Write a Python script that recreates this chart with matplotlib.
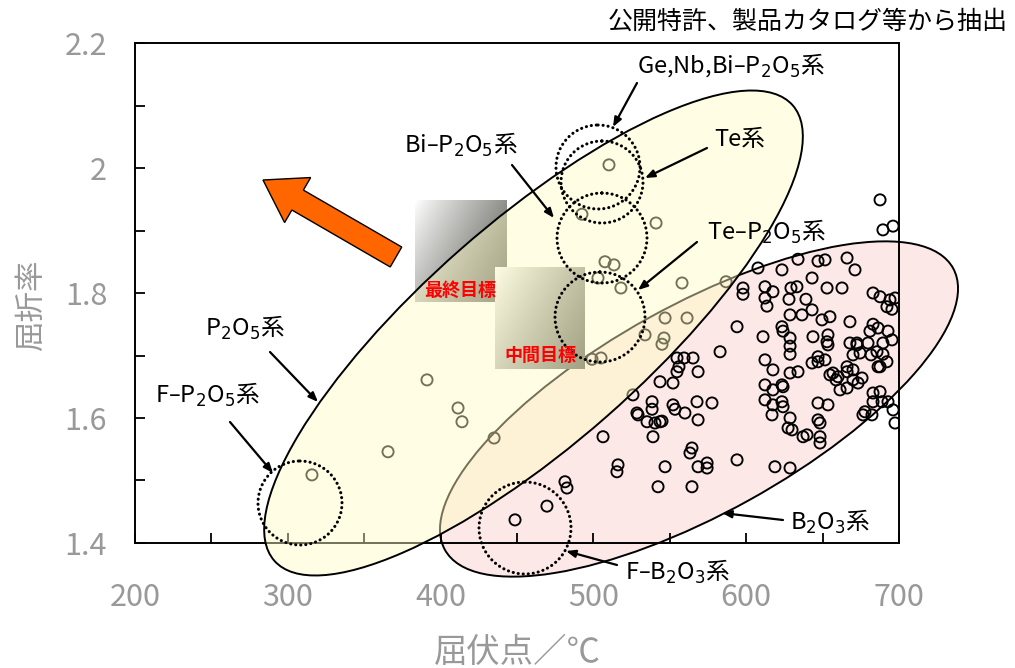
import numpy as np
import matplotlib
matplotlib.use("Agg")
import matplotlib.pyplot as plt
from matplotlib.patches import Ellipse, FancyArrow
from matplotlib.ticker import FixedLocator

plt.rcParams['font.family'] = ['Noto Sans CJK JP', 'DejaVu Sans']

# ---------------- data (softening point [deg C], refractive index) -------------
tg_b2o3 = [607.7, 623.4, 633.9, 647.0, 651.6, 666.0, 671.2, 643.1, 597.9, 597.9,
           612.3, 617.5, 612.3, 613.6, 629.3, 633.2, 628.0, 639.1, 652.9, 662.7,
           683.0, 687.6, 694.1, 697.4, 692.1, 695.4, 628.7, 636.5, 643.1, 649.6,
           654.8, 667.9, 683.0, 686.3, 623.4, 594.0, 681.0, 692.8, 695.4, 687.6,
           689.5, 696.1, 611.0, 624.1, 628.7, 628.7, 628.7, 652.9, 653.5, 667.9,
           672.5, 669.9, 679.7, 681.7, 685.6, 689.5, 689.5, 686.3, 612.3, 617.5,
           628.7, 633.9, 643.1, 647.0, 651.6, 654.8, 658.8, 666.0, 669.9, 675.8,
           661.4, 666.0, 673.2, 612.3, 617.5, 623.4, 612.3, 617.5, 623.4, 624.1,
           616.9, 628.7, 627.4, 647.0, 653.5, 647.0, 637.2, 648.3, 648.3, 676.4,
           682.3, 683.0, 687.6, 683.0, 688.9, 692.8, 696.1, 697.4, 618.8, 628.7,
           582.9, 554.7, 559.3, 565.2, 554.7, 556.0, 568.5, 543.6, 552.1, 538.4,
           538.4, 529.2, 535.1, 540.3, 544.9, 539.0, 552.1, 553.4, 559.9, 567.8,
           577.6, 568.5, 506.3, 564.5, 563.2, 516.1, 515.4, 546.9, 568.5, 574.4,
           574.4, 594.0, 542.3, 564.5, 481.4, 482.7, 448.7, 469.6, 692.1, 643.7,
           647.0, 656.8, 660.1, 687.6, 653.5, 672.5, 666.0, 669.9, 674.5, 543.6,
           528.5, 624.1, 648.3, 639.8, 630.0, 677.7]
nd_b2o3 = [1.840, 1.837, 1.854, 1.851, 1.853, 1.856, 1.837, 1.824, 1.808, 1.798,
           1.810, 1.802, 1.792, 1.779, 1.808, 1.810, 1.790, 1.790, 1.808, 1.808,
           1.800, 1.794, 1.789, 1.792, 1.778, 1.774, 1.765, 1.765, 1.773, 1.757,
           1.762, 1.754, 1.750, 1.744, 1.746, 1.746, 1.739, 1.739, 1.725, 1.949,
           1.901, 1.907, 1.730, 1.739, 1.728, 1.715, 1.702, 1.722, 1.733, 1.720,
           1.720, 1.701, 1.720, 1.701, 1.706, 1.720, 1.702, 1.682, 1.693, 1.677,
           1.672, 1.674, 1.688, 1.690, 1.693, 1.669, 1.661, 1.674, 1.661, 1.664,
           1.645, 1.648, 1.656, 1.653, 1.645, 1.653, 1.629, 1.621, 1.626, 1.618,
           1.605, 1.600, 1.584, 1.624, 1.621, 1.597, 1.570, 1.570, 1.560, 1.605,
           1.605, 1.640, 1.642, 1.626, 1.626, 1.626, 1.613, 1.592, 1.522, 1.520,
           1.706, 1.696, 1.696, 1.696, 1.674, 1.682, 1.674, 1.658, 1.656, 1.626,
           1.614, 1.605, 1.594, 1.592, 1.595, 1.570, 1.621, 1.614, 1.608, 1.626,
           1.624, 1.597, 1.570, 1.552, 1.544, 1.525, 1.514, 1.522, 1.522, 1.528,
           1.520, 1.533, 1.490, 1.490, 1.498, 1.488, 1.437, 1.459, 1.690, 1.730,
           1.698, 1.672, 1.666, 1.682, 1.717, 1.717, 1.682, 1.677, 1.704, 1.594,
           1.608, 1.650, 1.592, 1.573, 1.581, 1.610]

tg_p2o5 = [315.8, 365.6, 391.1, 411.4, 414.0, 435.0, 510.2, 492.5, 541.0, 507.6,
           513.5, 503.0, 518.0, 558.0, 586.8, 546.9, 561.3, 533.8, 546.2, 544.9,
           499.1, 505.0, 525.9]
nd_p2o5 = [1.509, 1.546, 1.661, 1.616, 1.594, 1.568, 2.005, 1.926, 1.912, 1.850,
           1.845, 1.824, 1.808, 1.816, 1.818, 1.760, 1.760, 1.733, 1.728, 1.718,
           1.694, 1.696, 1.637]

x_ticks = [200, 300, 400, 500, 600, 700]
x_ticklabels = ['200', '300', '400', '500', '600', '700']
y_ticks = [1.4, 1.6, 1.8, 2.0, 2.2]
y_ticklabels = ['1.4', '1.6', '1.8', '2', '2.2']

# ---------------- figure & layers ------------------------------------------------
W, H = 1015, 668
fig = plt.figure(figsize=(W / 100, H / 100), dpi=100)

ax_bg = fig.add_axes([0, 0, 1, 1])
ax_bg.set_zorder(0)
ax = fig.add_axes([135 / W, (H - 543) / H, 764 / W, 500 / H])
ax.set_zorder(1)
ax.patch.set_visible(False)
ax_fg = fig.add_axes([0, 0, 1, 1])
ax_fg.set_zorder(2)

# ---- background layer: B2O3 region and target boxes
pink = '#fde8e8'
ax_bg.add_patch(Ellipse((699, 409), 581, 208, angle=-29, facecolor=pink,
                        edgecolor='black', lw=1.4))


def grad_box(a, x0, y0, x1, y1):
    n = 80
    u = np.linspace(0, 1, n)
    U, V = np.meshgrid(u, u)
    g = np.clip(0.62 * U + 0.38 * V, 0, 1) ** 0.9
    dark = np.array([0.34, 0.34, 0.31])
    img = (1 - g)[..., None] * np.array([1.0, 1.0, 1.0]) + g[..., None] * dark
    a.imshow(img, extent=(x0, x1, y1, y0), origin='upper', aspect='auto',
             interpolation='bilinear', zorder=2)


grad_box(ax_bg, 415, 200, 507, 302)
grad_box(ax_bg, 495, 267, 585, 369)
ax_bg.set_xlim(0, W)
ax_bg.set_ylim(H, 0)
ax_bg.axis('off')

# ---- main axes: scatter
ax.scatter(tg_b2o3, nd_b2o3, s=64, facecolors='none', edgecolors='black',
           linewidths=1.35, zorder=3)
ax.scatter(tg_p2o5, nd_p2o5, s=64, facecolors='none', edgecolors='black',
           linewidths=1.35, zorder=3)
ax.set_xlim(200, 700)
ax.set_ylim(1.4, 2.2)
ax.set_xticks(x_ticks)
ax.set_xticklabels(x_ticklabels)
ax.xaxis.set_minor_locator(FixedLocator([250, 350, 450, 550, 650]))
ax.set_yticks(y_ticks)
ax.set_yticklabels(y_ticklabels)
ax.yaxis.set_minor_locator(FixedLocator([1.5, 1.7, 1.9, 2.1]))
ax.tick_params(which='both', direction='in', length=7, width=1.3, color='black',
               top=False, right=False, labelcolor='#999999', labelsize=22)
ax.tick_params(axis='x', which='major', pad=28)
ax.tick_params(axis='y', which='major', pad=20)
for sp in ax.spines.values():
    sp.set_linewidth(1.4)
    sp.set_color('black')

ax.set_xlabel('屈伏点／℃', fontsize=24, color='#999999')
ax.xaxis.label.set_va('center')
ax.xaxis.set_label_coords((517 - 135) / 764, (543 - 652) / 500)
ax.set_ylabel('屈折率', fontsize=22, color='#999999')
ax.yaxis.label.set_va('center')
ax.yaxis.set_label_coords((32 - 135) / 764, (543 - 305) / 500)

# ---- foreground layer: P2O5 region, dotted groups, arrows, labels
ax_fg.add_patch(Ellipse((533.5, 333), 690, 222, angle=-41.3,
                        facecolor=(1.0, 0.99, 0.76, 0.45),
                        edgecolor='black', lw=1.4))

for (cx, cy, r) in [(300, 503, 42), (525, 528, 46), (598, 167, 42),
                    (602, 182, 41), (602, 238, 45), (600, 317, 45)]:
    ax_fg.add_patch(Ellipse((cx, cy), 2 * r, 2 * r, fill=False, edgecolor='black',
                            lw=2.2, linestyle=(0, (0.05, 1.6)), capstyle='round'))

ax_fg.add_patch(FancyArrow(396, 257, -133, -77, width=23, head_width=52,
                           head_length=40, length_includes_head=True,
                           facecolor='#ff6600', edgecolor='black', lw=1.0))

arrows = [((637, 83), (613, 127)), ((707, 148), (645, 178)),
          ((512, 165), (554, 218)), ((697, 242), (638, 290)),
          ((270, 352), (318, 402)), ((230, 422), (273, 473)),
          ((783, 520), (722, 513)), ((617, 565), (566, 551))]
for tail, tip in arrows:
    ax_fg.annotate('', xy=tip, xytext=tail,
                   arrowprops=dict(arrowstyle='-|>,head_length=0.55,head_width=0.22',
                                   color='black', lw=1.6, shrinkA=0, shrinkB=0))

labels = [('Ge,Nb,Bi–P$_2$O$_5$系', 731, 65), ('Te系', 740, 140),
          ('Bi–P$_2$O$_5$系', 461, 145), ('Te–P$_2$O$_5$系', 767, 232),
          ('P$_2$O$_5$系', 245, 328), ('F–P$_2$O$_5$系', 207, 395),
          ('B$_2$O$_3$系', 830, 522), ('F–B$_2$O$_3$系', 678, 572)]
for s, x, y in labels:
    ax_fg.text(x, y, s, ha='center', va='center', fontsize=17, color='black')

ax_fg.text(460, 290, '最終目標', ha='center', va='center', fontsize=13,
           fontweight='bold', color='#ff0000')
ax_fg.text(540, 355, '中間目標', ha='center', va='center', fontsize=13,
           fontweight='bold', color='#ff0000')

ax_fg.text(1008, 22, '公開特許、製品カタログ等から抽出', ha='right', va='center',
           fontsize=18, color='black')

ax_fg.set_xlim(0, W)
ax_fg.set_ylim(H, 0)
ax_fg.axis('off')

fig.savefig('out.png', dpi=100, facecolor='white')
